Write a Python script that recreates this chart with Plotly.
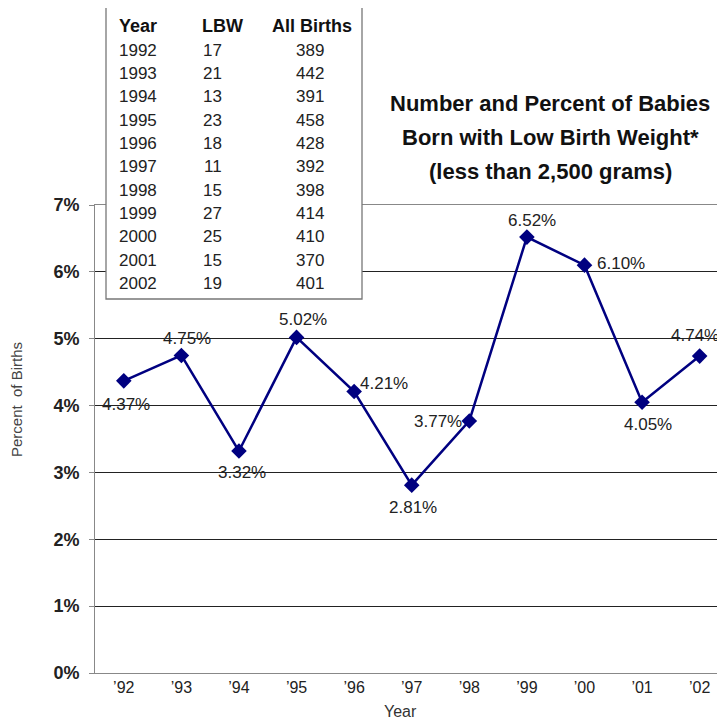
import plotly.graph_objects as go

# chart data
year_ticks = ["’92", "’93", "’94", "’95", "’96", "’97", "’98", "’99", "’00", "’01", "’02"]
pct_lbw = [4.37, 4.75, 3.32, 5.02, 4.21, 2.81, 3.77, 6.52, 6.10, 4.05, 4.74]

# table data
tbl_years = ["1992", "1993", "1994", "1995", "1996", "1997", "1998", "1999", "2000", "2001", "2002"]
tbl_lbw = ["17", "21", "13", "23", "18", "11", "15", "27", "25", "15", "19"]
tbl_births = ["389", "442", "391", "458", "428", "392", "398", "414", "410", "370", "401"]

title_lines = ["Number and Percent of Babies", "Born with Low Birth Weight*", "(less than 2,500 grams)"]

# pixel offsets of each data label from its marker (style only)
label_dx = [2, 6, 3, 6, 30, 1, -31, 5, 37, 6, -5]
label_dy = [-24, 17, -21, 18, 8, -22, -1, 17, 2, -22, 21]

# page body adds an 8px offset, so the figure is smaller than the window
W, H = 717, 712
L, R, T, B = 87, 0, 197, 47
FONT = "Liberation Sans, Arial, sans-serif"


def px(x):
    # reference page x -> paper
    return (x - 95) / 630


def py(y):
    # reference page y -> paper
    return (673 - y) / 468


fig = go.Figure()
fig.add_trace(go.Scatter(
    x=year_ticks, y=pct_lbw, mode="lines+markers",
    line=dict(color="#000080", width=2.5),
    marker=dict(symbol="diamond", size=12, color="#000080"),
    cliponaxis=False, showlegend=False,
))

for i, v in enumerate(pct_lbw):
    fig.add_annotation(
        x=year_ticks[i], y=v, text=f"{v:.2f}%", showarrow=False,
        xanchor="center", yanchor="middle", xshift=label_dx[i], yshift=label_dy[i],
        font=dict(family=FONT, size=17, color="#222"),
    )

# table box
fig.add_shape(type="rect", xref="paper", yref="paper",
              x0=px(106), x1=px(362), y0=py(299), y1=py(4),
              line=dict(color="#777", width=1.3), fillcolor="white", layer="above")

hdr = dict(xref="paper", yref="paper", showarrow=False, yanchor="middle",
           font=dict(family=FONT, size=18, color="#111", weight="bold"))
fig.add_annotation(text="Year", x=px(117), y=py(26), xanchor="left", **hdr)
fig.add_annotation(text="LBW", x=px(222), y=py(26), xanchor="center", **hdr)
fig.add_annotation(text="All Births", x=px(312), y=py(26), xanchor="center", **hdr)

cell = dict(xref="paper", yref="paper", showarrow=False, yanchor="middle",
            font=dict(family=FONT, size=17, color="#222"))
for i in range(len(tbl_years)):
    yy = py(50 + 23.35 * i)
    fig.add_annotation(text=tbl_years[i], x=px(117), y=yy, xanchor="left", **cell)
    fig.add_annotation(text=tbl_lbw[i], x=px(224), y=yy, xanchor="right", **cell)
    fig.add_annotation(text=tbl_births[i], x=px(326), y=yy, xanchor="right", **cell)

for i, line in enumerate(title_lines):
    fig.add_annotation(
        text=line, xref="paper", yref="paper", x=px(550), y=py(103 + 34 * i),
        xanchor="center", yanchor="middle", showarrow=False,
        font=dict(family=FONT, size=22, color="#111", weight="bold"),
    )

# axis titles
fig.add_annotation(text="Percent  of Births", xref="paper", yref="paper",
                   x=px(16), y=py(400), xanchor="center", yanchor="middle",
                   textangle=-90, showarrow=False, font=dict(family=FONT, size=15, color="#444"))
fig.add_annotation(text="Year", xref="paper", yref="paper",
                   x=px(400), y=py(711), xanchor="center", yanchor="middle",
                   showarrow=False, font=dict(family=FONT, size=16, color="#333"))

fig.update_layout(
    width=W, height=H,
    margin=dict(l=L, r=R, t=T, b=B, autoexpand=False),
    paper_bgcolor="white", plot_bgcolor="white",
    font=dict(family=FONT, color="#222"),
    xaxis=dict(
        range=[-0.5, 10.44], showgrid=False, showline=True, linecolor="#888",
        mirror=True, ticks="", tickfont=dict(size=16, color="#222"),
    ),
    yaxis=dict(
        range=[0, 7], dtick=1, showgrid=True, gridcolor="#222", gridwidth=1,
        showline=True, linecolor="#888", ticks="outside", ticklen=5, tickcolor="#888",
        ticksuffix="%", tickfont=dict(size=18, color="#222", weight="bold"),
        ticklabelstandoff=6, zeroline=False,
    ),
)

fig.write_html("out.html")
